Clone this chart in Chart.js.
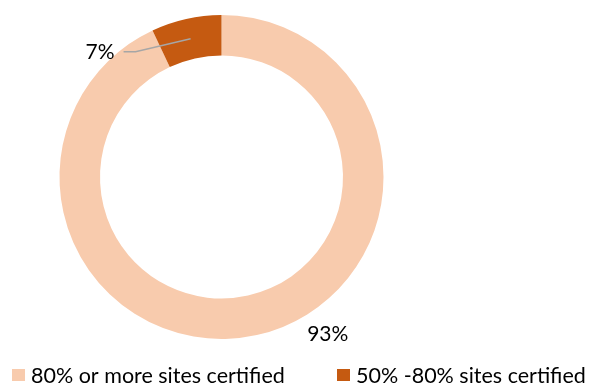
<!DOCTYPE html>
<html>
<head>
<meta charset="utf-8">
<script src="https://cdn.jsdelivr.net/npm/chart.js@4/dist/chart.umd.min.js"></script>
<style>
  html, body { margin: 0; padding: 0; background: #ffffff; }
  #wrap { width: 589px; height: 385px; position: relative; }
</style>
</head>
<body>
<div id="wrap"><canvas id="c" width="589" height="385"></canvas></div>
<script>
// Share of sites by certification level
const categories = ['80% or more sites certified', '50% -80% sites certified'];
const shares = [93, 7];
const valueLabels = ['93%', '7%'];
const colors = ['#F8CBAD', '#C55A11'];

const FONT = 'Lato, "Open Sans", sans-serif';

// Percentage labels; the small slice gets a leader line out to the left
const labelPlugin = {
  id: 'sliceLabels',
  afterDatasetsDraw(chart) {
    const ctx = chart.ctx;
    const meta = chart.getDatasetMeta(0);
    ctx.save();
    ctx.font = '21px ' + FONT;
    ctx.fillStyle = '#000';
    ctx.textBaseline = 'middle';
    meta.data.forEach((arc, i) => {
      const p = arc.getProps(['x', 'y', 'startAngle', 'endAngle', 'innerRadius', 'outerRadius'], true);
      const mid = (p.startAngle + p.endAngle) / 2;
      if (i === 1) {
        const rMid = (p.innerRadius + p.outerRadius) / 2;
        const sx = p.x + Math.cos(mid) * rMid;
        const sy = p.y + Math.sin(mid) * rMid;
        const ex = sx - 55, ey = sy + 13;
        ctx.strokeStyle = '#A6A6A6';
        ctx.lineWidth = 1.5;
        ctx.beginPath();
        ctx.moveTo(sx, sy);
        ctx.lineTo(ex, ey);
        ctx.lineTo(ex - 12, ey);
        ctx.stroke();
        ctx.textAlign = 'right';
        ctx.fillText(valueLabels[i], ex - 21, ey + 1);
      } else {
        const a = -Math.PI / 2 + (146 / 180) * Math.PI;
        const r = p.outerRadius + 28;
        ctx.textAlign = 'center';
        ctx.fillText(valueLabels[i], p.x + Math.cos(a) * r, p.y + Math.sin(a) * r);
      }
    });
    ctx.restore();
  }
};

// Legend along the bottom edge
const legendPlugin = {
  id: 'bottomLegend',
  afterDraw(chart) {
    const ctx = chart.ctx;
    ctx.save();
    ctx.font = '21.5px ' + FONT;
    ctx.textBaseline = 'middle';
    ctx.textAlign = 'left';
    const y = 375;
    const starts = [12, 337];
    categories.forEach((name, i) => {
      ctx.fillStyle = colors[i];
      ctx.fillRect(starts[i], y - 6, 13, 12);
      ctx.fillStyle = '#000';
      ctx.fillText(name, starts[i] + 19, y + 1);
    });
    ctx.restore();
  }
};

new Chart(document.getElementById('c'), {
  type: 'doughnut',
  data: {
    labels: categories,
    datasets: [{
      data: shares,
      backgroundColor: colors,
      borderWidth: 0
    }]
  },
  options: {
    responsive: false,
    animation: false,
    cutout: '75%',
    layout: { padding: { left: 59, right: 205, top: 15, bottom: 46 } },
    plugins: {
      legend: { display: false },
      tooltip: { enabled: false }
    }
  },
  plugins: [labelPlugin, legendPlugin]
});
</script>
</body>
</html>
